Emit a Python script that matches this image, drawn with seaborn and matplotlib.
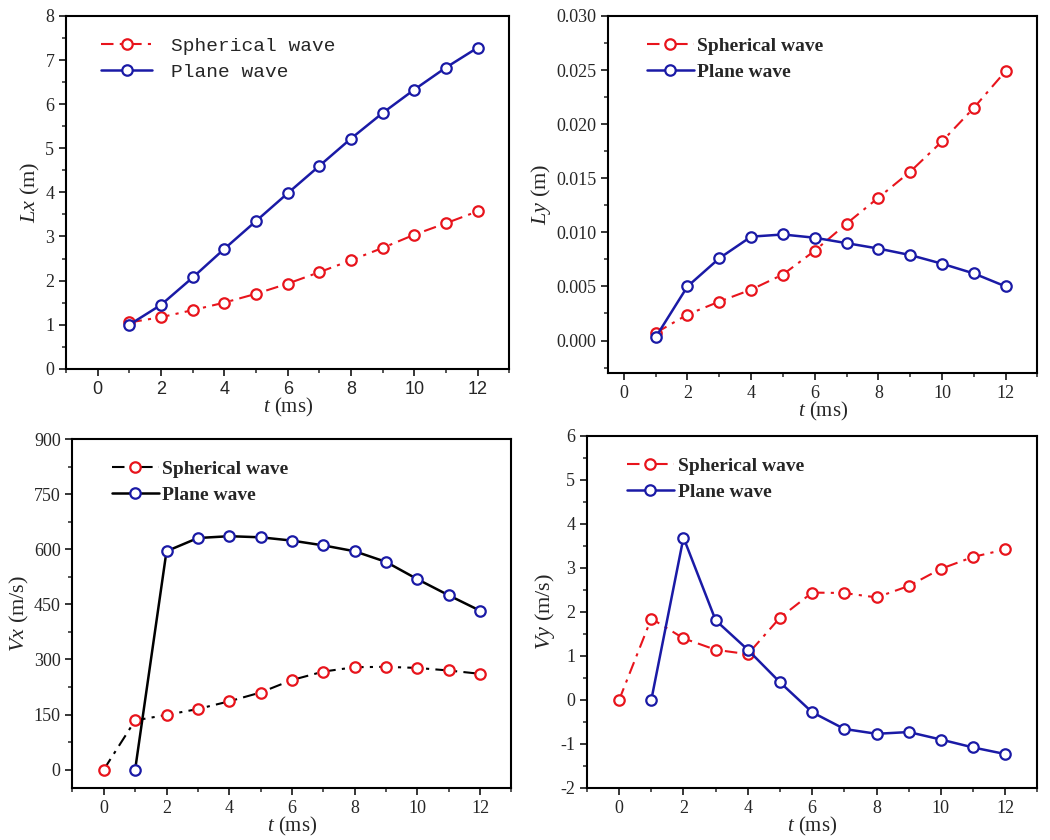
import numpy as np
import pandas as pd
import matplotlib
matplotlib.use("Agg")
import matplotlib.pyplot as plt
from matplotlib.ticker import MultipleLocator, FormatStrFormatter
import seaborn as sns

# --- Data ---
t_lx = [1, 2, 3, 4, 5, 6, 7, 8, 9, 10, 11, 12]
lx_spherical = [1.05, 1.17, 1.33, 1.50, 1.70, 1.93, 2.19, 2.46, 2.74, 3.04, 3.30, 3.57]
lx_plane = [1.00, 1.45, 2.07, 2.72, 3.35, 3.98, 4.60, 5.22, 5.80, 6.33, 6.83, 7.28]

t_ly = [1, 2, 3, 4, 5, 6, 7, 8, 9, 10, 11, 12]
ly_spherical = [0.0007, 0.0024, 0.0036, 0.0047, 0.0061, 0.0083, 0.0108, 0.0132, 0.0156, 0.0184, 0.0215, 0.0249]
ly_plane = [0.0003, 0.0050, 0.0076, 0.0096, 0.0098, 0.0095, 0.0090, 0.0085, 0.0079, 0.0071, 0.0062, 0.0050]

t_sph = [0, 1, 2, 3, 4, 5, 6, 7, 8, 9, 10, 11, 12]
t_pla = [1, 2, 3, 4, 5, 6, 7, 8, 9, 10, 11, 12]
vx_spherical = [0, 134, 149, 165, 186, 210, 244, 267, 279, 280, 277, 270, 261]
vx_plane = [0, 595, 631, 636, 633, 624, 611, 595, 566, 519, 475, 433]
vy_spherical = [0, 1.85, 1.40, 1.14, 1.04, 1.87, 2.44, 2.43, 2.33, 2.59, 2.98, 3.25, 3.42]
vy_plane = [0, 3.69, 1.81, 1.14, 0.40, -0.28, -0.66, -0.77, -0.73, -0.90, -1.08, -1.23]

sns.set_style("ticks")
plt.rcParams['font.family'] = ['Liberation Serif', 'DejaVu Serif']
plt.rcParams['mathtext.fontset'] = 'custom'
plt.rcParams['mathtext.rm'] = 'Liberation Serif'
plt.rcParams['mathtext.it'] = 'Liberation Serif:italic'
plt.rcParams['axes.unicode_minus'] = False
plt.rcParams['axes.linewidth'] = 1.5
plt.rcParams['xtick.major.width'] = 1.3
plt.rcParams['ytick.major.width'] = 1.3
plt.rcParams['xtick.minor.width'] = 1.1
plt.rcParams['ytick.minor.width'] = 1.1
plt.rcParams['xtick.major.size'] = 5
plt.rcParams['ytick.major.size'] = 5
plt.rcParams['xtick.minor.size'] = 3
plt.rcParams['ytick.minor.size'] = 3

RED = '#e8141c'
BLUE = '#1a1aa6'

fig = plt.figure(figsize=(10.5, 8.4), dpi=100)
ax1 = fig.add_axes([0.063, 0.561, 0.422, 0.420])
ax2 = fig.add_axes([0.579, 0.556, 0.409, 0.425])
ax3 = fig.add_axes([0.069, 0.062, 0.418, 0.415])
ax4 = fig.add_axes([0.559, 0.062, 0.429, 0.419])


def draw(ax, xs, ys, xp, yp, line_sph, line_pla, ylabel):
    sns.lineplot(x=xs, y=ys, ax=ax, color=line_sph, linestyle=(0, (6, 3, 1.5, 3)),
                 linewidth=1.5, marker='o', markersize=7.5, markerfacecolor='white',
                 markeredgecolor=RED, markeredgewidth=1.6, label='Spherical wave')
    sns.lineplot(x=xp, y=yp, ax=ax, color=line_pla, linestyle='-',
                 linewidth=1.8, marker='o', markersize=7.5, markerfacecolor='white',
                 markeredgecolor=BLUE, markeredgewidth=1.6, label='Plane wave')
    ax.set_xlim(-1, 13)
    ax.xaxis.set_major_locator(MultipleLocator(2))
    ax.xaxis.set_minor_locator(MultipleLocator(1))
    ax.set_xlabel(r'$t$ (ms)', fontsize=15, labelpad=-1)
    ax.set_ylabel(ylabel, fontsize=16, labelpad=2)
    ax.tick_params(axis='both', which='both', direction='out', top=False, right=False,
                   labelsize=13)
    for s in ax.spines.values():
        s.set_visible(True)
        s.set_color('black')


draw(ax1, t_lx, lx_spherical, t_lx, lx_plane, RED, BLUE, r'$Lx$ (m)')
ax1.set_ylim(0, 8)
ax1.yaxis.set_major_locator(MultipleLocator(1))
ax1.yaxis.set_minor_locator(MultipleLocator(0.5))
for lab in ax1.get_xticklabels():
    lab.set_fontfamily('Liberation Sans')
ax1.legend(loc='upper left', frameon=False, handlelength=2.6, handletextpad=1.0,
           bbox_to_anchor=(0.04, 0.99), labelspacing=0.45,
           prop={'family': 'Liberation Mono', 'size': 14})

draw(ax2, t_ly, ly_spherical, t_ly, ly_plane, RED, BLUE, r'$Ly$ (m)')
ax2.set_xlim(-0.5, 13)
ax2.set_ylim(-0.003, 0.030)
ax2.yaxis.set_major_locator(MultipleLocator(0.005))
ax2.yaxis.set_minor_locator(MultipleLocator(0.0025))
ax2.yaxis.set_major_formatter(FormatStrFormatter('%.3f'))
ax2.legend(loc='upper left', frameon=False, handlelength=2.4, handletextpad=0.2,
           bbox_to_anchor=(0.05, 0.99), labelspacing=0.45,
           prop={'family': 'Liberation Serif', 'weight': 'bold', 'size': 14})

draw(ax3, t_sph, vx_spherical, t_pla, vx_plane, 'black', 'black', r'$Vx$ (m/s)')
ax3.set_ylim(-50, 900)
ax3.yaxis.set_major_locator(MultipleLocator(150))
ax3.yaxis.set_minor_locator(MultipleLocator(75))
ax3.legend(loc='upper left', frameon=False, handlelength=2.4, handletextpad=0.2,
           bbox_to_anchor=(0.05, 0.99), labelspacing=0.45,
           prop={'family': 'Liberation Serif', 'weight': 'bold', 'size': 14})

draw(ax4, t_sph, vy_spherical, t_pla, vy_plane, RED, BLUE, r'$Vy$ (m/s)')
ax4.set_ylim(-2, 6)
ax4.yaxis.set_major_locator(MultipleLocator(1))
ax4.yaxis.set_minor_locator(MultipleLocator(0.5))
ax4.legend(loc='upper left', frameon=False, handlelength=2.4, handletextpad=0.2,
           bbox_to_anchor=(0.05, 0.99), labelspacing=0.45,
           prop={'family': 'Liberation Serif', 'weight': 'bold', 'size': 14})

fig.savefig('out.png', dpi=100)
